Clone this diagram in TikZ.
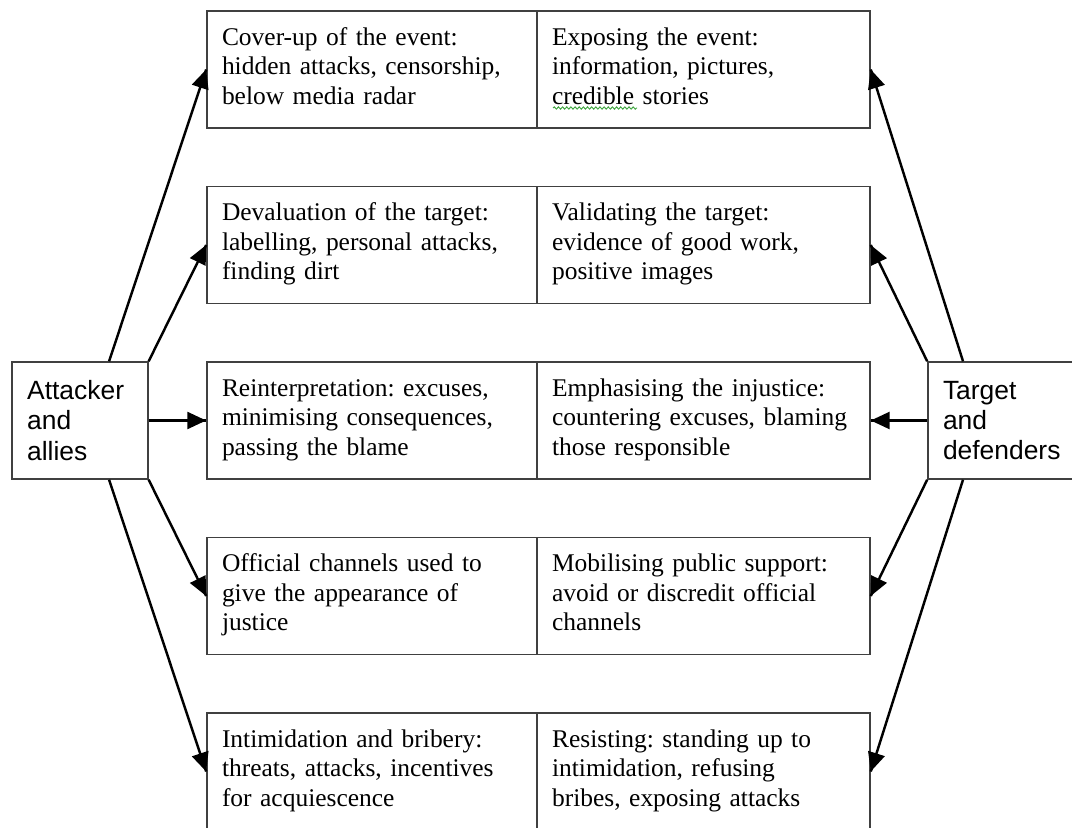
\documentclass[tikz,border=0pt]{standalone}
\usepackage{fontspec}
\setmainfont{Liberation Serif}
\setsansfont{Liberation Sans}
\usetikzlibrary{arrows.meta,decorations.markings,decorations.pathmorphing}
\definecolor{boxline}{rgb}{0.25,0.25,0.25}
\definecolor{spellgreen}{rgb}{0.25,0.65,0.25}

\begin{document}
\begin{tikzpicture}[x=0.53pt,y=-0.53pt,decoration={
    markings,
    mark=at position 1 with {\arrow{Triangle[length=10pt,width=9pt]}};
  },
  cell/.style={rectangle,draw=boxline,line width=0.8pt,minimum height=62pt,inner xsep=8pt,text height=9.5pt,text depth=35pt,align=left,font=\frenchspacing\fontsize{13.5pt}{15.6pt}\selectfont},
  actor/.style={rectangle,draw=boxline,line width=0.8pt,minimum height=62pt,inner xsep=8pt,align=left,text width=56pt,font=\sffamily\fontsize{14pt}{16pt}\selectfont},
  link/.style={line width=1.3pt,postaction={decorate}}]
  \useasboundingbox (0,0) rectangle (1072,828);
  \clip (0,0) rectangle (1072,828);
  \node[cell,text width=159pt] (a1) at (372,69.5) {Cover-up of the event:\\hidden attacks, censorship,\\below media radar};
  \node[cell,text width=160.5pt] (d1) at (703.5,69.5) {Exposing the event:\\information, pictures,\\credible stories};
  \node[cell,text width=159pt] (a2) at (372,245) {Devaluation of the target:\\labelling, personal attacks,\\finding dirt};
  \node[cell,text width=160.5pt] (d2) at (703.5,245) {Validating the target:\\evidence of good work,\\positive images};
  \node[cell,text width=159pt] (a3) at (372,420.5) {Reinterpretation: excuses,\\minimising consequences,\\passing the blame};
  \node[cell,text width=160.5pt] (d3) at (703.5,420.5) {Emphasising the injustice:\\countering excuses, blaming\\those responsible};
  \node[cell,text width=159pt] (a4) at (372,596) {Official channels used to\\give the appearance of\\justice};
  \node[cell,text width=160.5pt] (d4) at (703.5,596) {Mobilising public support:\\avoid or discredit official\\channels};
  \node[cell,text width=159pt] (a5) at (372,771.5) {Intimidation and bribery:\\threats, attacks, incentives\\for acquiescence};
  \node[cell,text width=160.5pt] (d5) at (703.5,771.5) {Resisting: standing up to\\intimidation, refusing\\bribes, exposing attacks};
  \node[actor] (att) at (80,420.5) {Attacker\\and\\allies};
  \node[actor,text width=62pt] (tgt) at (1001.5,420.5) {Target\\and\\defenders};
  % spell-check mark under "credible"
  \draw[spellgreen,line width=0.5pt,decorate,decoration={snake,amplitude=0.6pt,segment length=2.2pt}] (553,108) -- (637,108);
  \draw[link] ([xshift=-21pt]att.north east) -- (a1.west);
  \draw[link] (att.north east) -- (a2.west);
  \draw[link] (att.east) -- (a3.west);
  \draw[link] (att.south east) -- (a4.west);
  \draw[link] ([xshift=-21pt]att.south east) -- (a5.west);
  \draw[link] ([xshift=19pt]tgt.north west) -- (d1.east);
  \draw[link] (tgt.north west) -- (d2.east);
  \draw[link] (tgt.west) -- (d3.east);
  \draw[link] (tgt.south west) -- (d4.east);
  \draw[link] ([xshift=19pt]tgt.south west) -- (d5.east);
\end{tikzpicture}
\end{document}
